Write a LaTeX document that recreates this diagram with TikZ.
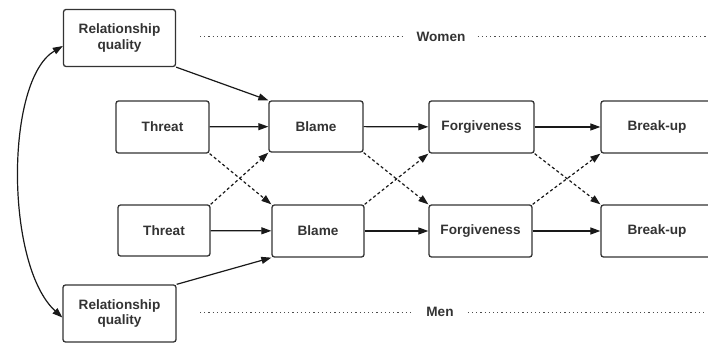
\documentclass[tikz,border=0pt]{standalone}
\usepackage{fontspec}
\setmainfont{Liberation Sans}
\usetikzlibrary{arrows.meta}
\begin{document}
\begin{tikzpicture}[x=1pt,y=-1pt,
  box/.style={draw=black!80, line width=1.3pt, rounded corners=2.5pt, align=center,
    font=\fontsize{13.6}{15.5}\selectfont\bfseries, text=black!80, inner sep=0pt},
  arr/.style={line width=1.2pt, draw=black!90, -{Triangle[length=10pt,width=7pt]}},
  darr/.style={arr, dash pattern=on 3pt off 2.5pt},
  dotline/.style={line width=1pt, draw=black!70, dash pattern=on 1.2pt off 3pt},
  lbl/.style={font=\fontsize{13.6}{15.5}\selectfont\bfseries, text=black!80, inner sep=0pt}]
\useasboundingbox (0,0) rectangle (708,344);
% top row
\node[box, minimum width=112pt, minimum height=57pt] (rq1) at (119.5,38) {Relationship\\quality};
\node[box, minimum width=93pt, minimum height=52pt] (t1) at (162.5,127) {Threat};
\node[box, minimum width=94pt, minimum height=51pt] (b1) at (316,126.5) {Blame};
\node[box, minimum width=105pt, minimum height=52pt] (f1) at (481.5,127) {Forgiveness};
\node[box, minimum width=112pt, minimum height=52pt] (u1) at (657,127) {Break-up};
% bottom row
\node[box, minimum width=92pt, minimum height=51pt] (t2) at (164,230.5) {Threat};
\node[box, minimum width=92pt, minimum height=52pt] (b2) at (318,231) {Blame};
\node[box, minimum width=103pt, minimum height=52pt] (f2) at (480.5,231) {Forgiveness};
\node[box, minimum width=112pt, minimum height=52pt] (u2) at (657,231) {Break-up};
\node[box, minimum width=113pt, minimum height=57pt] (rq2) at (119.5,313.5) {Relationship\\quality};
% group labels
\node[lbl] (w) at (441,37) {Women};
\node[lbl] (m) at (440,312) {Men};
\coordinate (wl) at (200,37);
\coordinate (wr) at (706,37);
\coordinate (ml) at (200,312);
\coordinate (mr) at (706,312);
\draw[dotline] (wl) -- ([xshift=-14pt]w.west);
\draw[dotline] ([xshift=12pt]w.east) -- (wr);
\draw[dotline] (ml) -- ([xshift=-14pt]m.west);
\draw[dotline] ([xshift=14pt]m.east) -- (mr);
% solid arrows
\draw[arr] (rq1.south east) -- (b1.north west);
\draw[arr] (rq2.north east) -- (b2.south west);
\draw[arr] (t1) -- (b1);
\draw[arr] (b1) -- (f1);
\draw[arr] (f1) -- (u1.west);
\draw[arr] (t2) -- (b2);
\draw[arr] (b2) -- (f2);
\draw[arr] (f2) -- (u2.west);
% dashed cross arrows
\draw[darr] (t1.south east) -- (b2.north west);
\draw[darr] (t2.north east) -- (b1.south west);
\draw[darr] (b1.south east) -- (f2.north west);
\draw[darr] (b2.north east) -- (f1.south west);
\draw[darr] (f1.south east) -- (u2.north west);
\draw[darr] (f2.north east) -- (u1.south west);
% curved double arrow
\draw[line width=1.2pt, draw=black!90, {Triangle[length=10pt,width=7pt]}-{Triangle[length=10pt,width=7pt]}]
  ([yshift=-8pt]rq1.west) .. controls (5,80) and (5,265) .. ([yshift=-4pt]rq2.west);
\end{tikzpicture}
\end{document}
